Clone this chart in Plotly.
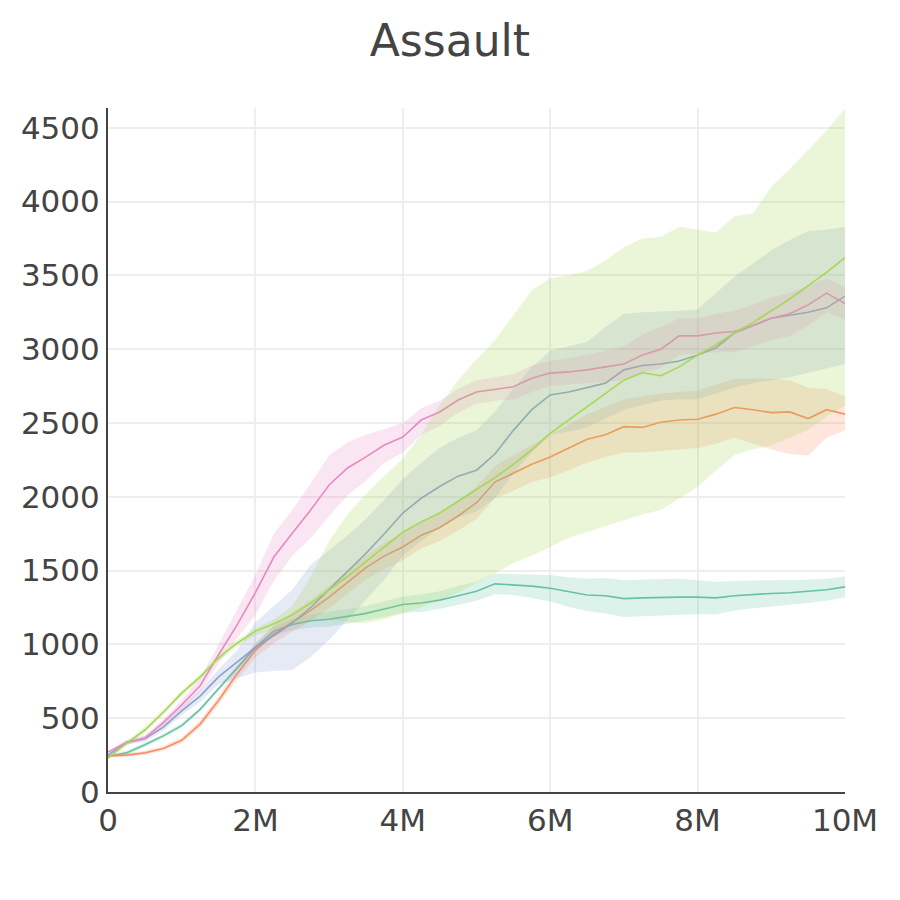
import plotly.graph_objects as go

steps_m = [i * 0.25 for i in range(41)]
steps = [s * 1e6 for s in steps_m]

teal_mean = [240,265,320,380,450,560,700,840,980,1090,1135,1160,1170,1190,1210,1240,1270,1280,1300,1330,1360,1410,1405,1395,1380,1355,1335,1330,1310,1315,1320,1320,1320,1315,1330,1340,1345,1350,1360,1370,1390]
teal_upper = [250,280,335,395,465,575,715,860,1005,1120,1175,1205,1220,1240,1260,1295,1325,1340,1360,1395,1425,1480,1475,1475,1470,1455,1445,1450,1435,1440,1445,1445,1435,1425,1430,1435,1435,1435,1440,1445,1460]
teal_lower = [230,250,305,365,435,545,685,820,955,1060,1095,1115,1120,1140,1160,1185,1215,1220,1240,1265,1295,1340,1335,1315,1290,1255,1225,1210,1185,1190,1195,1195,1205,1205,1230,1245,1255,1265,1280,1295,1320]

orange_mean = [245,250,265,295,350,460,620,800,960,1070,1150,1230,1320,1420,1520,1600,1660,1740,1790,1870,1960,2100,2160,2220,2270,2330,2390,2420,2475,2470,2505,2520,2525,2560,2605,2590,2570,2575,2530,2590,2560]
orange_upper = [255,262,280,312,370,485,650,840,1010,1130,1215,1300,1395,1500,1600,1690,1750,1830,1890,1970,2070,2210,2280,2350,2420,2490,2560,2610,2660,2680,2700,2710,2720,2760,2800,2800,2800,2790,2740,2730,2680]
orange_lower = [235,238,250,280,330,435,590,760,910,1010,1085,1160,1245,1340,1440,1510,1570,1650,1700,1770,1850,1990,2040,2100,2130,2180,2230,2270,2300,2300,2310,2320,2330,2360,2400,2360,2320,2290,2280,2400,2450]

blue_mean = [250,335,360,440,550,650,780,880,980,1060,1145,1250,1370,1490,1617,1750,1890,1990,2070,2140,2180,2290,2450,2590,2690,2710,2740,2770,2860,2890,2900,2920,2960,3010,3110,3160,3210,3230,3250,3280,3360]
blue_upper = [260,350,380,465,580,690,830,960,1150,1260,1370,1540,1640,1740,1850,1980,2120,2230,2330,2400,2450,2580,2730,2880,2990,3020,3050,3150,3240,3250,3255,3260,3270,3380,3490,3580,3670,3740,3800,3810,3830]
blue_lower = [240,320,340,415,520,610,730,770,810,820,826,915,1030,1165,1300,1440,1600,1700,1790,1860,1900,1990,2160,2300,2420,2440,2470,2530,2590,2620,2650,2660,2660,2700,2740,2770,2790,2810,2840,2870,2900]

pink_mean = [270,335,365,470,590,720,930,1130,1350,1592,1753,1911,2080,2195,2270,2351,2405,2520,2575,2656,2710,2729,2745,2803,2838,2846,2860,2880,2900,2960,3000,3090,3090,3110,3120,3160,3210,3240,3300,3380,3310]
pink_upper = [280,350,385,495,625,770,1000,1230,1470,1750,1910,2090,2280,2370,2420,2460,2500,2600,2650,2730,2790,2810,2830,2890,2920,2940,2960,2990,3020,3100,3150,3210,3210,3240,3260,3300,3350,3380,3430,3480,3420]
pink_lower = [260,320,350,450,560,680,870,1040,1200,1430,1600,1720,1870,2010,2110,2230,2300,2420,2480,2570,2630,2650,2660,2710,2750,2760,2770,2780,2790,2840,2870,2960,2970,2980,2980,3020,3060,3090,3160,3250,3200]

green_mean = [230,330,420,540,670,780,908,1008,1090,1140,1200,1280,1370,1460,1560,1660,1760,1830,1890,1970,2050,2130,2220,2320,2430,2520,2610,2700,2790,2840,2820,2880,2960,3030,3110,3180,3260,3340,3430,3520,3620]
green_upper = [240,345,440,560,690,800,930,1030,1110,1170,1260,1460,1700,1880,2020,2140,2260,2420,2620,2790,2930,3060,3230,3400,3480,3500,3530,3600,3690,3750,3760,3830,3810,3790,3900,3920,4100,4220,4350,4480,4630]
green_lower = [220,315,400,520,650,760,885,985,1060,1100,1140,1160,1165,1150,1145,1170,1210,1250,1300,1350,1416,1480,1551,1600,1660,1720,1762,1800,1843,1880,1911,1990,2067,2180,2283,2320,2350,2400,2452,2540,2620]

series = [
    ("teal", "#66c2a5", "rgba(102,194,165,0.22)", teal_mean, teal_upper, teal_lower),
    ("orange", "#fc8d62", "rgba(252,141,98,0.22)", orange_mean, orange_upper, orange_lower),
    ("blue", "#8da0cb", "rgba(141,160,203,0.22)", blue_mean, blue_upper, blue_lower),
    ("pink", "#e78ac3", "rgba(231,138,195,0.22)", pink_mean, pink_upper, pink_lower),
    ("green", "#a6d854", "rgba(166,216,84,0.22)", green_mean, green_upper, green_lower),
]

fig = go.Figure()
for name, col, fill, mean, up, lo in series:
    fig.add_trace(go.Scatter(x=steps, y=up, mode="lines", line=dict(width=0),
                             hoverinfo="skip", showlegend=False))
    fig.add_trace(go.Scatter(x=steps, y=lo, mode="lines", line=dict(width=0),
                             fill="tonexty", fillcolor=fill, hoverinfo="skip", showlegend=False))
    fig.add_trace(go.Scatter(x=steps, y=mean, mode="lines", name=name,
                             line=dict(color=col, width=1.6), showlegend=False))

fig.update_layout(
    width=900, height=900,
    template="plotly_white",
    font=dict(family="DejaVu Sans", color="#444", size=31),
    title=dict(text="Assault", x=0.491, xanchor="center", y=0.964, yanchor="middle",
               font=dict(size=44, family="DejaVu Sans", color="#444")),
    margin=dict(l=100, r=63, t=100, b=116),
    plot_bgcolor="white", paper_bgcolor="white",
    showlegend=False,
)
fig.update_xaxes(range=[0, 10e6], tickvals=[0, 2e6, 4e6, 6e6, 8e6, 10e6],
                 ticktext=["0", "2M", "4M", "6M", "8M", "10M"],
                 showgrid=True, gridcolor="#eeeeee", gridwidth=1.5,
                 showline=True, linecolor="#444", linewidth=2, zeroline=False,
                 ticks="", tickfont=dict(size=31))
fig.update_yaxes(range=[0, 4634], tickvals=[0, 500, 1000, 1500, 2000, 2500, 3000, 3500, 4000, 4500],
                 showgrid=True, gridcolor="#eeeeee", gridwidth=1.5,
                 showline=True, linecolor="#444", linewidth=2, zeroline=False,
                 ticks="", tickfont=dict(size=31))

fig.write_html("out.html")
